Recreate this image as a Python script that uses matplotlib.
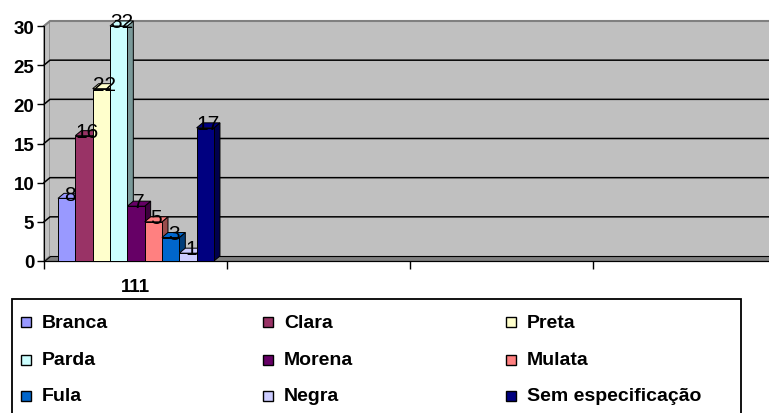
import matplotlib
matplotlib.use('Agg')
import matplotlib.pyplot as plt
from matplotlib.patches import Rectangle, Polygon
import matplotlib.colors as mcolors
import numpy as np

# dados
categorias = ['Branca', 'Clara', 'Preta', 'Parda', 'Morena', 'Mulata', 'Fula', 'Negra', 'Sem especificação']
valores = [8, 16, 22, 32, 7, 5, 3, 1, 17]
cores = ['#9999FF', '#993366', '#FFFFCC', '#CCFFFF', '#660066', '#FF8080', '#0066CC', '#CCCCFF', '#000080']
grupo = '111'
yticks = [0, 5, 10, 15, 20, 25, 30]

plt.rcParams['font.family'] = ['Liberation Sans', 'DejaVu Sans']

W, H = 769, 414
fig = plt.figure(figsize=(W / 100, H / 100), dpi=100)
ax = fig.add_axes([44 / W, (H - 262) / H, (W - 44) / W, (262 - 27) / H])
ymax = yticks[-1]
ax.set_ylim(0, ymax)
ax.set_xlim(0, 725 / 183)
ax.set_facecolor('none')

# profundidade do efeito 3D (em unidades de dados)
dx = 6 / 183
dy = 5 * ymax / 235
x_end = ax.get_xlim()[1] + 0.2

# paredes e chao
ax.add_patch(Polygon([(0, 0), (dx, dy), (dx, ymax + dy), (0, ymax)], fc='#C0C0C0',
                     ec='#808080', lw=1, clip_on=False, zorder=0))
ax.add_patch(Rectangle((dx, dy), x_end, ymax, fc='#C0C0C0', ec='none', clip_on=False, zorder=0))
ax.plot([0, dx, x_end], [ymax, ymax + dy, ymax + dy], color='#808080', lw=1.5,
        clip_on=False, zorder=1)
ax.add_patch(Polygon([(0, 0), (x_end, 0), (x_end, dy), (dx, dy)], fc='#808080',
                     ec='black', lw=0.8, clip_on=False, zorder=1))
for v in yticks[1:-1]:
    ax.plot([0, dx, x_end], [v, v + dy, v + dy], color='black', lw=1.1, clip_on=False, zorder=1)

# barras
w = 0.0947
x0s = 0.0765 + w * np.arange(len(valores))
alturas = np.minimum(valores, ymax)
barras = ax.bar(x0s, alturas, w, align='edge', color=cores, edgecolor='black', linewidth=0.7)
for i, (b, x0, h, v, c) in enumerate(zip(barras, x0s, alturas, valores, cores)):
    z = 3 + i
    escuro = tuple(np.array(mcolors.to_rgb(c)) * 0.6)
    ax.add_patch(Polygon([(x0 + w, 0), (x0 + w + dx, dy), (x0 + w + dx, h + dy), (x0 + w, h)],
                         fc=escuro, ec='black', lw=0.7, clip_on=False, zorder=z))
    ax.add_patch(Polygon([(x0, h), (x0 + w, h), (x0 + w + dx, h + dy), (x0 + dx, h + dy)],
                         fc=c, ec='black', lw=0.7, clip_on=False, zorder=z))
    b.set_zorder(z + 0.5)
    ax.text(x0 + w / 2 + dx / 2, h - 0.15, str(v), ha='center', va='baseline',
            fontsize=15, zorder=30)

# eixos
for s in ['top', 'right']:
    ax.spines[s].set_visible(False)
ax.spines['left'].set_zorder(2)
ax.spines['bottom'].set_zorder(2)
ax.set_yticks(yticks)
ax.set_yticklabels([str(t) for t in yticks], fontsize=13.5, fontweight='bold')
ax.tick_params(axis='y', length=5, width=1, direction='out', pad=2)
ax.set_xticks([0, 1, 2, 3])
ax.set_xticklabels([''] * 4)
ax.tick_params(axis='x', which='major', length=6, width=1, direction='out')
ax.set_xticks([0.5], minor=True)
ax.set_xticklabels([grupo], minor=True, fontsize=13.5, fontweight='bold')
ax.tick_params(axis='x', which='minor', length=0, pad=12)

# legenda
fig.add_artist(Rectangle((12 / W, -0.05), (741 - 12) / W, 1 - 300 / H + 0.05,
                         transform=fig.transFigure, fc='white', ec='black', lw=1.3, zorder=-1))
col_x = [21, 263, 506]
row_y = [323, 361, 397]
for i, (nome, c) in enumerate(zip(categorias, cores)):
    r, k = divmod(i, 3)
    fig.add_artist(Rectangle((col_x[k] / W, 1 - (row_y[r] + 5) / H), 10 / W, 10 / H,
                             transform=fig.transFigure, fc=c, ec='black', lw=1))
    fig.text((col_x[k] + 21) / W, 1 - row_y[r] / H, nome, fontsize=14,
             fontweight='bold', va='center')

fig.savefig('out.png', dpi=100)
